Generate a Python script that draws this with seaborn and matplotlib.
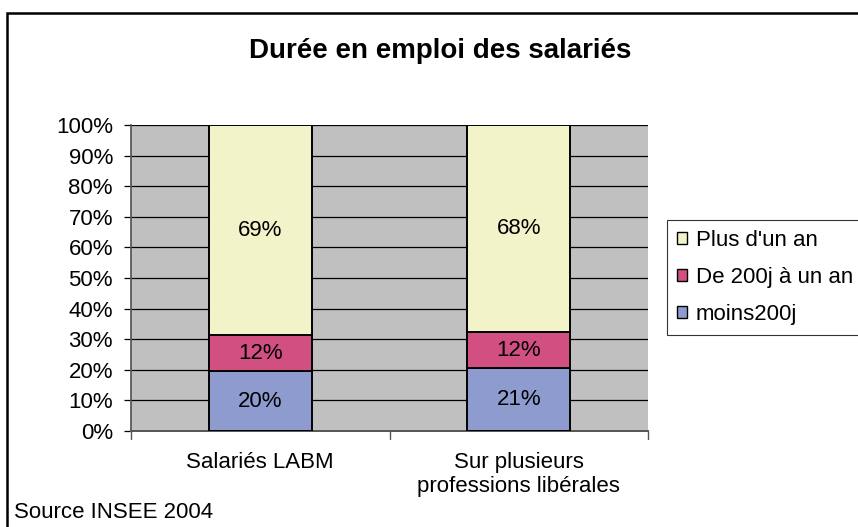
import numpy as np
import pandas as pd
import seaborn as sns
import matplotlib.pyplot as plt
from matplotlib.patches import Patch, Rectangle

categories = ["Salariés LABM", "Sur plusieurs\nprofessions libérales"]
moins200j = [0.196, 0.206]
de200j_un_an = [0.117, 0.117]
plus_un_an = [0.687, 0.677]
series_names = ["moins200j", "De 200j à un an", "Plus d'un an"]
colors = ["#8E9BCF", "#D24F82", "#F3F3CA"]
yticks = np.arange(0, 1.01, 0.1)

sns.set_theme(style="white")
plt.rcParams["font.family"] = ["Liberation Sans", "DejaVu Sans"]
plt.rcParams["text.color"] = "black"
plt.rcParams["xtick.color"] = "black"
plt.rcParams["ytick.color"] = "black"
plt.rcParams["xtick.labelcolor"] = "black"
plt.rcParams["ytick.labelcolor"] = "black"

fig = plt.figure(figsize=(8.58, 5.27), dpi=100)
ax = fig.add_axes([131 / 858, 1 - 431 / 527, 517 / 858, 306 / 527])
ax.set_facecolor("#C0C0C0")

df = pd.DataFrame({"cat": categories, "moins200j": moins200j,
                   "De 200j à un an": de200j_un_an, "Plus d'un an": plus_un_an})
bottom = np.zeros(len(categories))
for name, col in zip(series_names, colors):
    vals = df[name].to_numpy()
    sns.barplot(x=df["cat"], y=vals, bottom=bottom, color=col, width=0.4,
                edgecolor="black", linewidth=1.4, saturation=1, ax=ax, zorder=3)
    for i, v in enumerate(vals):
        ax.text(i, bottom[i] + v / 2, f"{round(v * 100):.0f}%", ha="center",
                va="center", fontsize=16, color="black", zorder=4)
    bottom = bottom + vals

ax.set_xlim(-0.5, 1.5)
ax.set_ylim(0, 1)
ax.set_yticks(yticks)
ax.set_yticklabels([f"{int(round(t * 100))}%" for t in yticks], fontsize=16)
for t in yticks[1:]:
    ax.axhline(t, color="black", linewidth=0.9, zorder=1)
ax.set_xlabel("")
ax.set_ylabel("")
ax.set_xticks([0, 1])
ax.set_xticklabels(categories, fontsize=16, linespacing=1.2)
ax.tick_params(axis="x", length=0, pad=15)
ax.tick_params(axis="y", length=5, width=0.9, color="black", left=True, pad=8)
for t in [-0.5, 0.5, 1.5]:
    ax.plot([t, t], [0, -0.025], color="#555555", lw=1, clip_on=False)
for s in ["top", "right"]:
    ax.spines[s].set_visible(False)
ax.spines["left"].set_color("#555555")
ax.spines["bottom"].set_color("#555555")
ax.spines["bottom"].set_linewidth(1.4)

fig.text(440 / 858, 1 - 58 / 527, "Durée en emploi des salariés",
         ha="center", va="baseline", fontsize=20, fontweight="bold", color="black")
fig.text(14 / 858, 1 - 513 / 527, "Source INSEE 2004", ha="left", va="center",
         fontsize=16, color="black")

# outer chart frame
fig.patches.append(Rectangle((7 / 858, -0.05), 1.0, 1 - 13 / 527 + 0.05,
                             transform=fig.transFigure, fill=False,
                             edgecolor="black", linewidth=1.8))

handles = [Patch(facecolor=c, edgecolor="black", linewidth=1) for c in colors[::-1]]
leg = fig.legend(handles, series_names[::-1], loc="upper left",
                 bbox_to_anchor=(667 / 858, 1 - 220 / 527), fontsize=16,
                 frameon=True, fancybox=False, handlelength=0.45, handleheight=0.45,
                 handletextpad=0.4, borderpad=0.45, labelspacing=0.72,
                 borderaxespad=0)
leg.get_frame().set_edgecolor("black")
leg.get_frame().set_linewidth(0.8)
for txt in leg.get_texts():
    txt.set_color("black")

fig.savefig("out.png", dpi=100)
